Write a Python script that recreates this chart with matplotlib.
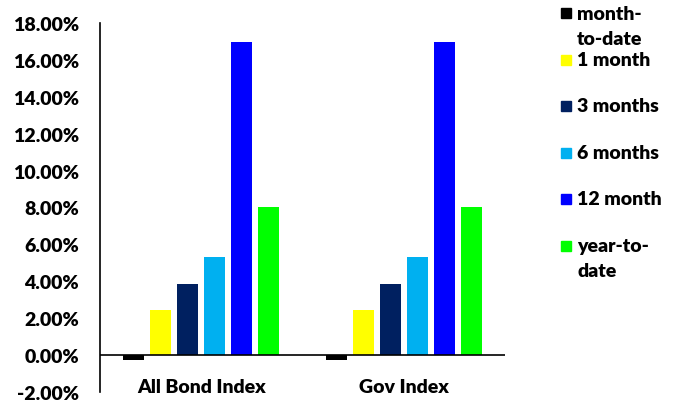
import matplotlib.pyplot as plt
from matplotlib.patches import Rectangle
import numpy as np

plt.rcParams['font.family'] = ['Lato', 'DejaVu Sans']
plt.rcParams['font.weight'] = 'heavy'

categories = ['All Bond Index', 'Gov Index']
series = ['month-\nto-date', '1 month', '3 months', '6 months', '12 month', 'year-to-\ndate']
colors = ['#000000', '#FFFF00', '#002060', '#00B0F0', '#0000FF', '#00FF00']
values = [
    [-0.27, -0.27],
    [2.43, 2.43],
    [3.84, 3.84],
    [5.33, 5.33],
    [16.99, 16.99],
    [8.04, 8.04],
]
yticks = np.arange(-2, 19, 2)

fig = plt.figure(figsize=(6.78, 4.02), dpi=100)
ax = fig.add_axes([0.1475, 0.0224, 0.5975, 0.918])

x = np.arange(len(categories))
step = 0.133
width = 0.104
for i, (vals, c) in enumerate(zip(values, colors)):
    ax.bar(x + (i - 2.5) * step, vals, width, color=c, zorder=2)

ax.set_xlim(-0.5, 1.5)
ax.set_ylim(-2, 18)
ax.set_yticks(yticks)
ax.set_yticklabels(['%.2f%%' % t for t in yticks], fontsize=14, fontweight='heavy')
ax.tick_params(axis='y', length=0, pad=15)
ax.set_xticks([])
for s in ['top', 'right', 'bottom']:
    ax.spines[s].set_visible(False)
ax.spines['left'].set_linewidth(1.2)
ax.axhline(0, color='black', lw=1.2, zorder=3)

for xi, cat in zip(x, categories):
    ax.text(xi, -1.68, cat, ha='center', va='center', fontsize=14, fontweight='heavy')

# legend drawn by hand so the swatch sits on the first text line
lx, ly, lstep = 561 / 678, 1 - 14 / 402, 46.5 / 402
for i, (lab, c) in enumerate(zip(series, colors)):
    y = ly - i * lstep
    fig.patches.append(Rectangle((lx, y - 5 / 402), 10 / 678, 10 / 402,
                                 transform=fig.transFigure, color=c))
    fig.text(lx + 16 / 678, y + (8 / 402 if '\n' in lab else 0), lab, ha='left',
             va='center' if '\n' not in lab else 'top',
             fontsize=14, fontweight='heavy', linespacing=1.55)

fig.savefig('out.png', dpi=100)
